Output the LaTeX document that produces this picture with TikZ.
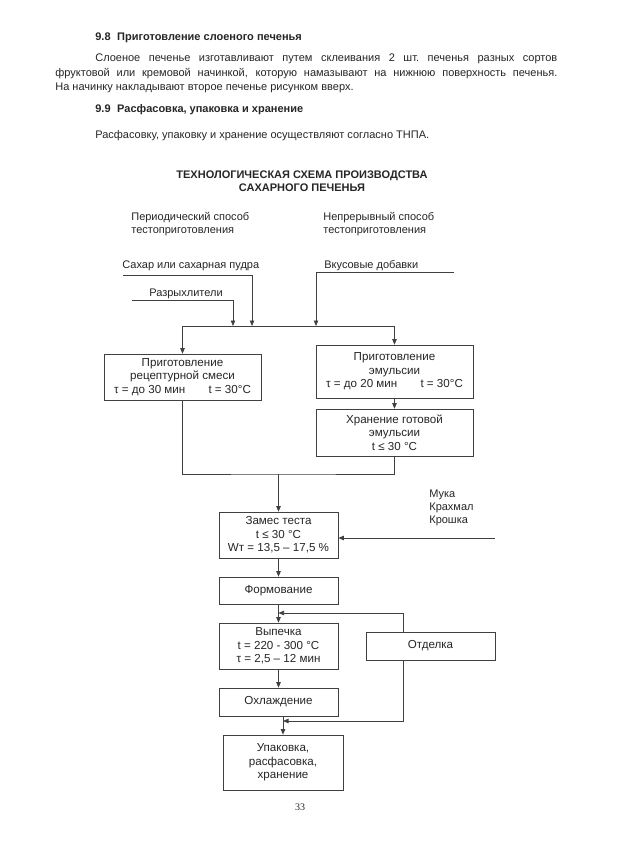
\documentclass[tikz,border=0pt]{standalone}
\usepackage{fontspec}
\setmainfont{Liberation Sans}
\newfontfamily\pagefont{Liberation Serif}
\usetikzlibrary{arrows.meta}

\tikzset{
  stage/.style={draw=black!75, line width=0.7pt, align=center, inner sep=1pt,
    minimum width=119pt, minimum height=28pt, text=black!85,
    font=\fontsize{11.6}{13.4}\selectfont},
  lbl/.style={anchor=base west, inner sep=0pt, text=black!85,
    font=\fontsize{11}{13.4}\selectfont},
  head/.style={lbl, font=\fontsize{11}{13.4}\selectfont\bfseries},
}

\begin{document}
\begin{tikzpicture}[x=1pt, y=-1pt, >={Triangle[length=5.5pt,width=4.5pt]},
  line width=0.7pt, draw=black!75]
\path[use as bounding box, fill=white] (0,0) rectangle (623,857);

% text above the scheme
\node[head] (h98) at (95,40) {9.8\hspace{0.6em}Приготовление слоеного печенья};
\node[lbl] (p1) at (95,61) {\makebox[462pt][s]{Слоеное печенье изготавливают путем склеивания 2 шт.\ печенья разных сортов}};
\node[lbl] (p2) at (55,76) {\makebox[502pt][s]{фруктовой или кремовой начинкой, которую намазывают на нижнюю поверхность печенья.}};
\node[lbl] (p3) at (55,90) {На начинку накладывают второе печенье рисунком вверх.};
\node[head] (h99) at (95,112) {9.9\hspace{0.6em}Расфасовка, упаковка и хранение};
\node[lbl] (p4) at (95,138) {Расфасовку, упаковку и хранение осуществляют согласно ТНПА.};

% title
\node[inner sep=0pt, align=center, text=black!85, font=\fontsize{11}{12.5}\selectfont\bfseries]
  (title) at (302,181) {ТЕХНОЛОГИЧЕСКАЯ СХЕМА ПРОИЗВОДСТВА\\САХАРНОГО ПЕЧЕНЬЯ};

\node[lbl, anchor=north west, align=left] (batch) at (131,212) {Периодический способ\\тестоприготовления};
\node[lbl, anchor=north west, align=left] (cont) at (323,212) {Непрерывный способ\\тестоприготовления};

\node[lbl] (sugar) at (122,268) {Сахар или сахарная пудра};
\node[lbl] (leav) at (149,296) {Разрыхлители};
\node[lbl] (flav) at (324,268) {Вкусовые добавки};

% boxes
\node[stage, minimum width=157pt, minimum height=46pt] (rec) at (182.5,377)
  {Приготовление\\рецептурной смеси\\τ = до 30 мин\hspace{2em}t = 30°C};
\node[stage, minimum width=157pt, minimum height=53pt] (emu) at (394.5,371.5)
  {Приготовление\\эмульсии\\τ = до 20 мин\hspace{2em}t = 30°C};
\node[stage, minimum width=157pt, minimum height=47pt] (sto) at (394.5,432.5)
  {Хранение готовой\\эмульсии\\t ≤ 30 °C};
\node[stage, minimum height=46pt] (zam) at (278.5,535)
  {Замес теста\\t ≤ 30 °C\\Wт = 13,5 – 17,5 \%};
\node[stage, minimum height=27pt] (frm) at (278.5,590.5) {Формование};
\node[stage, minimum height=46pt] (vyp) at (278.5,646)
  {Выпечка\\t = 220 - 300 °C\\τ = 2,5 – 12 мин};
\node[stage, minimum width=129pt] (otd) at (430.5,646) {Отделка};
\node[stage] (ohl) at (278.5,702) {Охлаждение};
\node[stage, minimum width=120pt, minimum height=55pt] (upk) at (283,762.5)
  {Упаковка,\\расфасовка,\\хранение};

\node[lbl, anchor=north west, align=left, font=\fontsize{11}{13}\selectfont] (muka) at (429,490)
  {Мука\\Крахмал\\Крошка};

% connectors
\coordinate (sug0) at (123,275);
\coordinate (lea0) at (132,300);
\coordinate (fla0) at (454,272);
\coordinate (jl) at (182.5,326);
\coordinate (jr) at (394.5,326);
\coordinate (jb) at (278.5,474);
\coordinate (mk0) at (495,538);

\draw[->] (sug0) -| (252,326);
\draw[->] (lea0) -| (233,326);
\draw[->] (fla0) -| (316,326);
\draw (jl) -- (jr);
\draw[->] (jl) -- (rec.north);
\draw[->] (jr) -- (emu.north);
\draw[->] (emu) -- (sto);
\draw (rec.south) |- (jb) -| (sto.south);
\draw[->] (jb) -- (zam.north);
\draw[->] (mk0) -- (zam.east |- mk0);
\draw[->] (zam) -- (frm);
\draw[->] (frm) -- (vyp);
\draw[->] (vyp) -- (ohl);
\draw[->] (ohl.south -| upk.north) -- (upk.north);
\draw[->] (otd.north -| 403,0) |- (vyp.north |- 0,613);
\draw[->] (otd.south -| 403,0) |- (upk.north |- 0,721);

\node[inner sep=0pt, text=black!85, font=\pagefont\fontsize{10}{12}\selectfont] (pg) at (300,807) {33};
\end{tikzpicture}
\end{document}
